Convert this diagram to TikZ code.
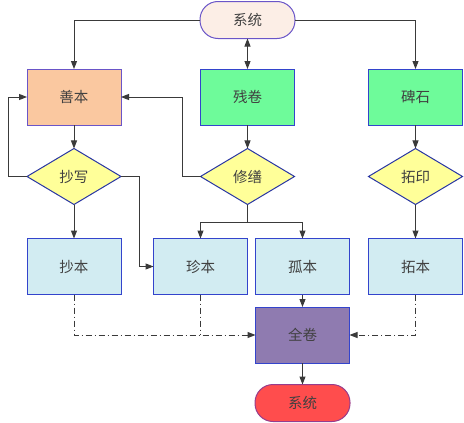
\documentclass[tikz,border=0pt]{standalone}
\usepackage{fontspec}
\setmainfont{Noto Sans CJK SC}
\usepackage{tikz}
\usetikzlibrary{arrows.meta,shapes.geometric,calc}

\definecolor{termtop}{HTML}{FCEEE6}
\definecolor{termend}{HTML}{FF4D4D}
\definecolor{peach}{HTML}{FAC8A0}
\definecolor{mint}{HTML}{6EFB9A}
\definecolor{lemon}{HTML}{FFFF99}
\definecolor{ice}{HTML}{D2ECF2}
\definecolor{lilac}{HTML}{8F7BB0}
\definecolor{edgeblue}{HTML}{3344CC}
\definecolor{edgepurple}{HTML}{6A55C8}
\definecolor{wire}{HTML}{3A3A3A}

\tikzset{
    box/.style={rectangle, draw=edgeblue, line width=1pt, minimum width=94pt, minimum height=56pt,
                inner sep=0pt, outer sep=0pt, text=black!75, font=\fontsize{14.5}{14.5}\selectfont},
    term/.style={box, rounded corners=18pt, minimum height=37pt, minimum width=95pt},
    choice/.style={diamond, draw=edgeblue!80!black, line width=1pt, fill=lemon, minimum width=94pt,
                minimum height=56pt, inner sep=0pt, outer sep=0pt, text=black!75, font=\fontsize{14.5}{14.5}\selectfont},
    arr/.style={draw=wire, line width=1pt, -{Triangle[length=8pt,width=6pt]}},
    biarr/.style={draw=wire, line width=1pt, {Triangle[length=8pt,width=6pt]}-{Triangle[length=8pt,width=6pt]}},
    line/.style={draw=wire, line width=1pt},
    dashdot/.style={dash pattern=on 6pt off 3pt on 1pt off 3pt}
}

\begin{document}
\begin{tikzpicture}[x=1pt, y=-1pt]
    \useasboundingbox (0,0) rectangle (464,423);

    % Nodes {top, row 1, decisions, row 3, merge, end}
    \node [term, fill=termtop, draw=edgepurple]  (start)    at (247.5,20)  {系统};
    \node [box, fill=peach, draw=edgepurple]     (shanben)  at (74,97)     {善本};
    \node [box, fill=mint]                       (canjuan)  at (247.5,97)  {残卷};
    \node [box, fill=mint]                       (beishi)   at (415.5,97)  {碑石};

    \node [choice]                               (chaoxie)  at (74,176.5)  {抄写};
    \node [choice]                               (xiushan)  at (247.5,176.5) {修缮};
    \node [choice]                               (tayin)    at (415.5,176.5) {拓印};

    \node [box, fill=ice]                        (chaoben)  at (74,266.5)  {抄本};
    \node [box, fill=ice]                        (zhenben)  at (200.5,266.5) {珍本};
    \node [box, fill=ice]                        (guben)    at (302.5,266.5) {孤本};
    \node [box, fill=ice]                        (taben)    at (415.5,266.5) {拓本};

    \node [box, fill=lilac]                      (quanjuan) at (302.5,335) {全卷};
    \node [term, fill=termend, draw=edgepurple!70!red] (finish) at (302.5,403) {系统};

    \coordinate (split) at (247.5,222);

    % Paths
    \path [arr]    (start.west) -| (shanben.north);
    \path [arr]    (start.east) -| (beishi.north);
    \path [biarr]  (start.south) -- (canjuan.north);

    \path [arr]    (shanben) -- (chaoxie);
    \path [arr]    (canjuan) -- (xiushan);
    \path [arr]    (beishi) -- (tayin);

    \path [arr]    (chaoxie.west) -- ++(-19,0) |- (shanben.west);
    \path [arr]    (chaoxie.east) -- ++(18,0) |- (zhenben.west);
    \path [arr]    (xiushan.west) -- ++(-18,0) |- (shanben.east);

    \path [line]   (xiushan.south) -- (split);
    \path [arr]    (split) -| (zhenben.north);
    \path [arr]    (split) -| (guben.north);

    \path [arr]    (chaoxie) -- (chaoben);
    \path [arr]    (tayin) -- (taben);

    \path [arr, dashdot]  (chaoben.south) |- (quanjuan.west);
    \path [line, dashdot] (zhenben.south) -- (zhenben.south |- quanjuan.west);
    \path [arr, dashdot]  (taben.south) |- (quanjuan.east);
    \path [arr]    (guben) -- (quanjuan);
    \path [arr]    (quanjuan) -- (finish);
\end{tikzpicture}
\end{document}
